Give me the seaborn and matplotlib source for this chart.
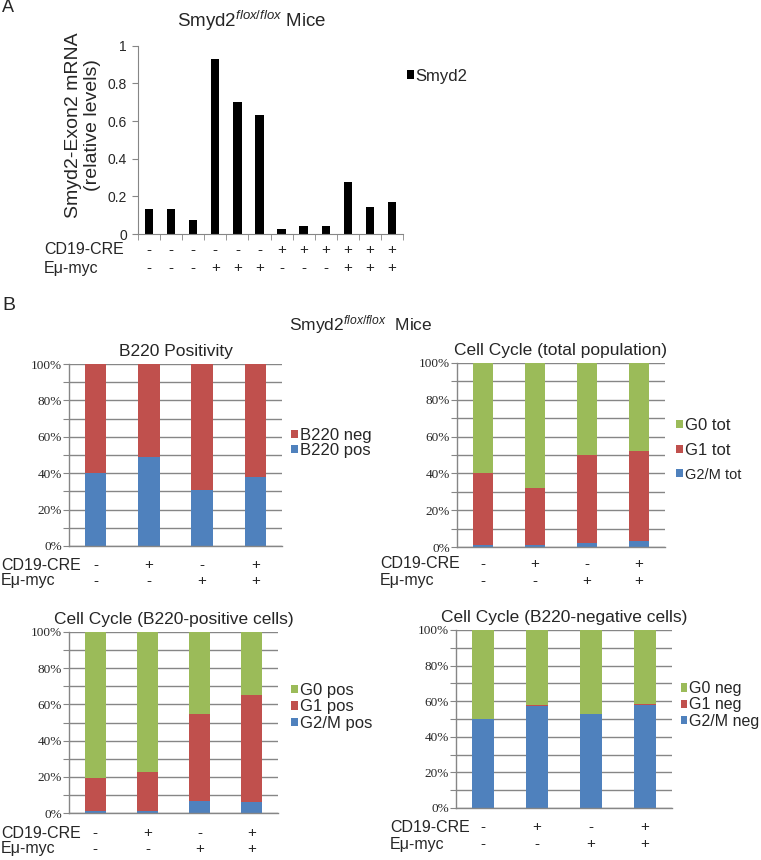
import numpy as np
import seaborn as sns
import matplotlib.pyplot as plt
from matplotlib.patches import Patch
from matplotlib.transforms import blended_transform_factory

# panel A: Smyd2 exon2 mRNA, 12 mice
smyd2 = [0.135, 0.135, 0.075, 0.93, 0.70, 0.63, 0.025, 0.045, 0.045, 0.275, 0.145, 0.17]
cd19_a = ['-', '-', '-', '-', '-', '-', '+', '+', '+', '+', '+', '+']
emyc_a = ['-', '-', '-', '+', '+', '+', '-', '-', '-', '+', '+', '+']

# panel B: four genotypes
cd19_b = ['-', '+', '-', '+']
emyc_b = ['-', '-', '+', '+']

b220_pos = [40, 49, 31, 38]
b220_neg = [60, 51, 69, 62]

g2m_tot = [1, 1, 2, 3]
g1_tot = [39, 31, 48, 49]
g0_tot = [60, 68, 50, 48]

g2m_pos = [1, 1, 6.5, 6]
g1_pos = [18.5, 21.5, 48, 59]
g0_pos = [80.5, 77.5, 45.5, 35]

g2m_neg = [50, 57.5, 53, 58]
g1_neg = [0, 0.5, 0, 0.5]
g0_neg = [50, 42, 47, 41.5]

BLUE, RED, GREEN = '#4F81BD', '#C0504D', '#9BBB59'
GRAY = '#868686'
W, H = 761, 860

sns.set_style('white')
plt.rcParams['font.family'] = ['Liberation Sans', 'DejaVu Sans']
plt.rcParams['mathtext.fontset'] = 'custom'
plt.rcParams['mathtext.rm'] = 'Liberation Sans'
plt.rcParams['mathtext.it'] = 'Liberation Sans:italic'

fig = plt.figure(figsize=(W / 100, H / 100), dpi=100)


def new_axes(left, top, right, bottom):
    return fig.add_axes([left / W, 1 - bottom / H, (right - left) / W, (bottom - top) / H])


def fig_text(x, y, s, **kw):
    return fig.text(x / W, 1 - y / H, s, **kw)


def cond_rows(ax, rows, names, offsets, name_dx, fs=11):
    tr = blended_transform_factory(ax.transData, ax.transAxes)
    for row, name, off in zip(rows, names, offsets):
        for i, s in enumerate(row):
            ax.annotate(s, xy=(i, 0), xycoords=tr, xytext=(0, -off), textcoords='offset pixels',
                        ha='center', va='center', fontsize=fs, annotation_clip=False)
        ax.annotate(name, xy=(0, 0), xycoords='axes fraction', xytext=(name_dx, -off),
                    textcoords='offset pixels', ha='left', va='center', fontsize=11.5,
                    annotation_clip=False)


def add_legend(ax, labels, colors, x_px, y_px, spacing, fs=12):
    handles = [Patch(facecolor=c, edgecolor='none') for c in colors]
    return ax.legend(handles, labels, loc='center left',
                     bbox_to_anchor=(x_px / W, 1 - y_px / H), bbox_transform=fig.transFigure,
                     frameon=False, fontsize=fs, handlelength=0.4, handleheight=0.4,
                     handletextpad=0.12, labelspacing=spacing, borderpad=0, borderaxespad=0)


def stacked_panel(ax, layers, colors, title):
    cum = np.cumsum(np.array(layers, dtype=float), axis=0)
    for vals, col in reversed(list(zip(cum, colors))):
        sns.barplot(x=list(range(len(vals))), y=vals, color=col, width=0.4,
                    saturation=1, linewidth=0, ax=ax)
    ax.set_ylim(0, 100)
    ax.set_xlim(-0.5, len(cum[0]) - 0.5)
    ax.set_xticks([])
    ax.set_yticks(range(0, 101, 10))
    ax.set_yticklabels([f'{v}%' if v % 20 == 0 else '' for v in range(0, 101, 10)],
                       fontfamily='Liberation Serif', fontsize=9.5)
    ax.tick_params(axis='y', length=4, color=GRAY, pad=1, left=True)
    ax.yaxis.grid(True, color=GRAY, linewidth=1)
    ax.set_axisbelow(True)
    for s in ['top', 'right']:
        ax.spines[s].set_visible(False)
    for s in ['left', 'bottom']:
        ax.spines[s].set_color(GRAY)
        ax.spines[s].set_linewidth(1)
    ax.set_title(title, fontsize=12.5, pad=6)


# ---- panel A ----
axA = new_axes(138, 45.7, 403, 234)
sns.barplot(x=list(range(len(smyd2))), y=smyd2, color='black', width=0.38,
            saturation=1, linewidth=0, ax=axA)
axA.set_ylim(0, 1)
axA.set_xlim(-0.5, len(smyd2) - 0.5)
axA.set_xticks([])
axA.set_xticks(np.arange(-0.5, len(smyd2), 1), minor=True)
axA.tick_params(axis='x', which='minor', length=4, color=GRAY, bottom=True)
axA.set_yticks([0, 0.2, 0.4, 0.6, 0.8, 1])
axA.set_yticklabels(['0', '0.2', '0.4', '0.6', '0.8', '1'], fontsize=10)
axA.tick_params(axis='y', length=4, color=GRAY, left=True, pad=4)
for s in ['top', 'right']:
    axA.spines[s].set_visible(False)
for s in ['left', 'bottom']:
    axA.spines[s].set_color(GRAY)
fig_text(83, 125, 'Smyd2-Exon2 mRNA\n(relative levels)', fontsize=14, rotation=90,
         ha='center', va='center', multialignment='center', linespacing=1.1)
fig_text(252, 21, r'Smyd2$^{\mathit{flox/flox}}$ Mice', fontsize=13.5, ha='center', va='center')
cond_rows(axA, [cd19_a, emyc_a], ['CD19-CRE', 'Eμ-myc'], [16, 34], 44 - 138)
add_legend(axA, ['Smyd2'], ['black'], 407, 76, 0)

# ---- panel B ----
ax1 = new_axes(69, 364, 282, 546)
stacked_panel(ax1, [b220_pos, b220_neg], [BLUE, RED], 'B220 Positivity')
cond_rows(ax1, [cd19_b, emyc_b], ['CD19-CRE', 'Eμ-myc'], [19, 35], 1 - 69)
add_legend(ax1, ['B220 neg', 'B220 pos'], [RED, BLUE], 291, 443, 0)

ax2 = new_axes(457, 363, 665, 547)
stacked_panel(ax2, [g2m_tot, g1_tot, g0_tot], [BLUE, RED, GREEN], 'Cell Cycle (total population)')
cond_rows(ax2, [cd19_b, emyc_b], ['CD19-CRE', 'Eμ-myc'], [17, 34], 380 - 457)
leg = add_legend(ax2, ['G0 tot', 'G1 tot', 'G2/M tot'], [GREEN, RED, BLUE], 676, 450, 0.6)
leg.get_texts()[2].set_fontsize(10.5)

ax3 = new_axes(69, 632, 278, 813)
stacked_panel(ax3, [g2m_pos, g1_pos, g0_pos], [BLUE, RED, GREEN], 'Cell Cycle (B220-positive cells)')
cond_rows(ax3, [cd19_b, emyc_b], ['CD19-CRE', 'Eμ-myc'], [20, 36], 1 - 69)
add_legend(ax3, ['G0 pos', 'G1 pos', 'G2/M pos'], [GREEN, RED, BLUE], 291, 707, 0.08)

ax4 = new_axes(456, 630, 672, 808)
stacked_panel(ax4, [g2m_neg, g1_neg, g0_neg], [BLUE, RED, GREEN], 'Cell Cycle (B220-negative cells)')
cond_rows(ax4, [cd19_b, emyc_b], ['CD19-CRE', 'Eμ-myc'], [19, 36], 390 - 456)
add_legend(ax4, ['G0 neg', 'G1 neg', 'G2/M neg'], [GREEN, RED, BLUE], 681, 705, 0.08, fs=11.5)

# panel letters and section header
fig_text(2, 8, 'A', fontsize=13, va='center', ha='left')
fig_text(2, 306, 'B', fontsize=14, va='center', ha='left')
fig_text(361, 325, r'Smyd2$^{\mathit{flox/flox}}$  Mice', fontsize=12.5, va='center', ha='center')

fig.savefig('out.png', dpi=100)
